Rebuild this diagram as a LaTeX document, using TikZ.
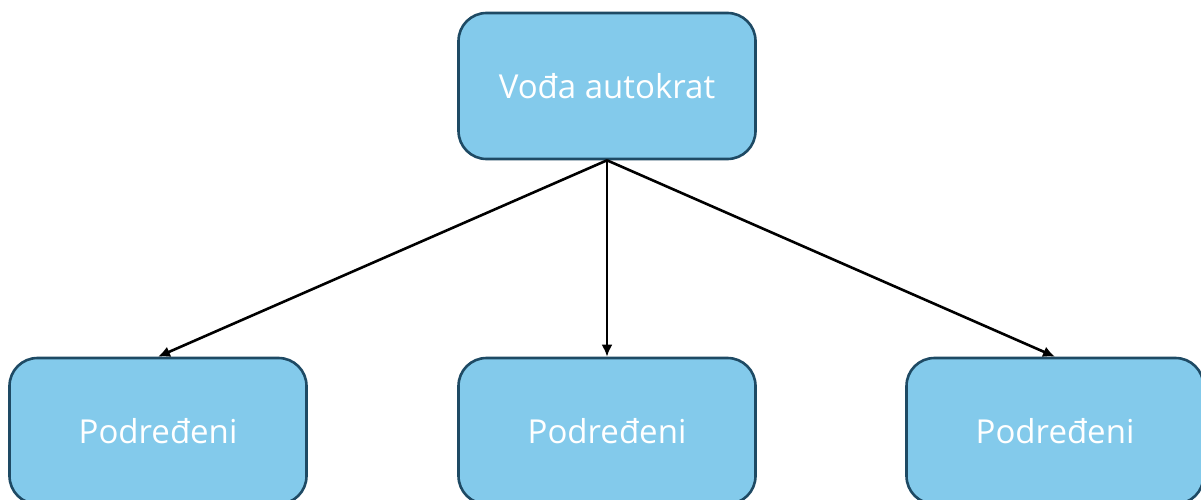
\documentclass[tikz,border=0pt]{standalone}
\usepackage{fontspec}
\setmainfont{Open Sans}
\usetikzlibrary{arrows.meta}
\definecolor{boxfill}{HTML}{83CAEB}
\definecolor{boxline}{HTML}{1E4A64}
\begin{document}
\begin{tikzpicture}[x=1pt,y=-1pt,
  box/.style={draw=boxline, fill=boxfill, line width=2.6pt, rounded corners=28pt,
    minimum width=297pt, minimum height=146pt, inner sep=0pt, text=white,
    font=\fontsize{33}{38}\selectfont},
  conn/.style={line width=2.6pt, -{Latex[length=12pt,width=11pt]}}]
\useasboundingbox (0,0) rectangle (1201,500);
\clip (0,0) rectangle (1201,500);
\node[box] (top) at (607,86) {Vođa autokrat};
\node[box] (l) at (158,431) {Podređeni};
\node[box] (m) at (607,431) {Podređeni};
\node[box] (r) at (1055,431) {Podređeni};
\draw[conn] (top.south) -- (l.north);
\draw[conn] (top.south) -- (m.north);
\draw[conn] (top.south) -- (r.north);
\end{tikzpicture}
\end{document}
